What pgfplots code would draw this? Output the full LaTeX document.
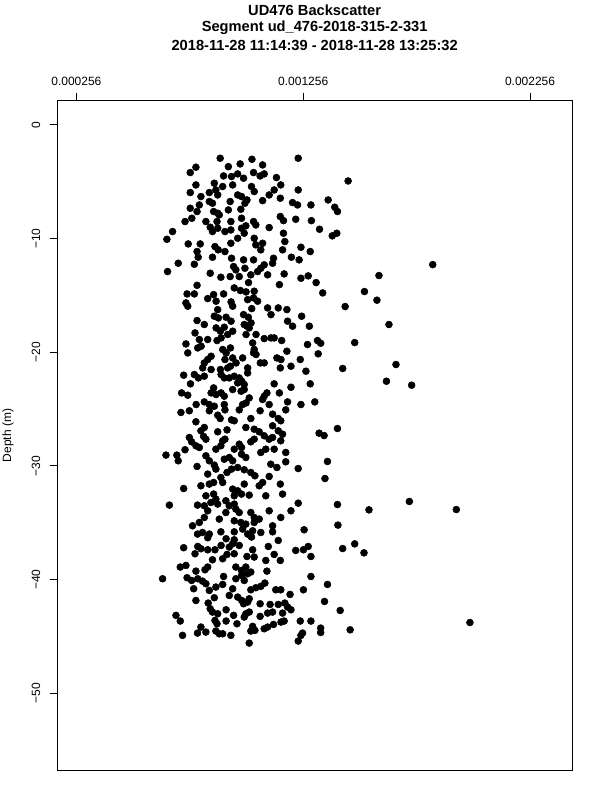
\documentclass[border=0pt]{standalone}
\usepackage{fontspec}
\setmainfont{Liberation Sans}
\usepackage{pgfplots}
\pgfplotsset{compat=1.18}
\pgfplotstableread{
x y
0.890e-3 -2.93
0.926e-3 -3.67
0.978e-3 -3.43
1.030e-3 -3.02
1.077e-3 -3.52
1.234e-3 -2.93
0.783e-3 -3.72
0.758e-3 -4.19
0.905e-3 -4.49
0.940e-3 -4.54
0.967e-3 -4.31
0.993e-3 -4.69
1.037e-3 -4.19
1.066e-3 -4.49
1.084e-3 -4.31
1.138e-3 -4.63
1.157e-3 -5.28
1.128e-3 -5.72
1.106e-3 -6.16
1.077e-3 -6.66
0.783e-3 -5.28
0.864e-3 -5.13
0.901e-3 -5.42
0.945e-3 -5.28
1.028e-3 -5.42
0.758e-3 -5.95
0.842e-3 -5.95
0.871e-3 -5.72
0.879e-3 -6.16
0.967e-3 -6.16
0.984e-3 -6.30
1.234e-3 -5.72
0.805e-3 -6.30
0.842e-3 -6.74
0.856e-3 -6.89
0.934e-3 -6.74
1.008e-3 -6.60
1.040e-3 -5.86
1.155e-3 -6.45
1.209e-3 -6.83
1.231e-3 -7.04
1.290e-3 -7.04
0.758e-3 -7.33
0.788e-3 -7.62
0.798e-3 -7.04
0.861e-3 -7.62
0.879e-3 -7.77
0.926e-3 -7.48
0.981e-3 -7.42
0.999e-3 -6.89
0.735e-3 -8.50
0.765e-3 -8.21
0.827e-3 -8.50
0.846e-3 -9.00
0.876e-3 -8.50
0.886e-3 -7.92
0.937e-3 -8.50
0.984e-3 -8.21
1.037e-3 -8.50
1.047e-3 -8.80
1.155e-3 -8.06
1.169e-3 -8.42
1.223e-3 -8.30
1.292e-3 -8.42
0.680e-3 -9.38
0.655e-3 -10.06
0.879e-3 -9.09
0.856e-3 -9.38
0.911e-3 -9.38
0.937e-3 -9.24
0.984e-3 -9.09
1.003e-3 -8.88
0.996e-3 -9.53
0.967e-3 -9.97
1.040e-3 -9.97
1.106e-3 -9.03
1.169e-3 -9.53
1.175e-3 -10.26
0.749e-3 -10.47
0.802e-3 -10.47
0.867e-3 -10.70
0.881e-3 -10.99
0.911e-3 -11.14
0.937e-3 -10.41
1.047e-3 -10.55
1.077e-3 -10.41
1.069e-3 -10.99
1.246e-3 -10.76
1.287e-3 -11.14
1.165e-3 -10.99
0.788e-3 -11.14
0.793e-3 -11.64
0.856e-3 -11.64
0.940e-3 -11.73
0.993e-3 -11.87
1.037e-3 -11.87
1.125e-3 -11.73
1.204e-3 -11.64
1.238e-3 -11.87
0.705e-3 -12.17
0.776e-3 -12.26
0.949e-3 -12.46
0.959e-3 -12.75
0.999e-3 -12.61
1.084e-3 -12.31
1.121e-3 -12.17
0.658e-3 -12.90
0.846e-3 -13.05
0.893e-3 -13.40
0.934e-3 -13.34
0.974e-3 -13.34
1.025e-3 -13.19
1.055e-3 -12.90
1.069e-3 -12.61
1.099e-3 -13.19
1.172e-3 -13.11
1.246e-3 -13.49
1.278e-3 -13.28
1.015e-3 -13.87
1.151e-3 -14.05
0.952e-3 -14.34
0.979e-3 -14.57
1.004e-3 -14.69
1.040e-3 -14.63
0.788e-3 -14.11
0.744e-3 -14.87
0.776e-3 -14.87
0.739e-3 -15.66
0.747e-3 -15.95
0.835e-3 -15.28
0.861e-3 -14.93
0.872e-3 -15.51
0.905e-3 -14.87
0.938e-3 -15.57
0.945e-3 -15.95
1.011e-3 -15.37
1.037e-3 -15.22
1.055e-3 -15.51
1.099e-3 -16.10
1.114e-3 -16.69
1.146e-3 -16.10
1.184e-3 -16.25
0.879e-3 -16.25
0.864e-3 -16.83
0.882e-3 -16.98
0.916e-3 -16.92
0.938e-3 -17.27
1.029e-3 -16.16
0.993e-3 -16.69
1.014e-3 -16.92
1.026e-3 -17.42
1.187e-3 -17.27
1.209e-3 -17.71
1.249e-3 -16.83
1.283e-3 -17.71
0.788e-3 -17.21
0.820e-3 -17.56
0.779e-3 -18.30
0.872e-3 -17.86
0.891e-3 -18.15
0.908e-3 -17.80
0.923e-3 -18.44
0.945e-3 -18.15
0.894e-3 -18.74
0.996e-3 -17.56
1.008e-3 -17.71
1.018e-3 -17.86
1.004e-3 -18.44
1.048e-3 -18.44
0.798e-3 -18.88
0.835e-3 -18.88
0.876e-3 -18.97
1.084e-3 -18.80
1.114e-3 -18.74
1.128e-3 -18.74
1.161e-3 -18.97
0.739e-3 -19.27
0.747e-3 -20.06
0.791e-3 -19.62
0.806e-3 -19.47
0.901e-3 -19.76
0.916e-3 -20.06
0.935e-3 -19.62
0.945e-3 -20.50
0.911e-3 -20.64
1.033e-3 -19.18
1.040e-3 -19.76
1.037e-3 -20.06
1.048e-3 -20.20
0.850e-3 -20.35
0.835e-3 -20.64
0.820e-3 -20.94
1.184e-3 -19.91
1.275e-3 -19.32
0.989e-3 -20.50
0.960e-3 -20.94
0.935e-3 -21.23
1.011e-3 -21.38
1.084e-3 -20.94
1.067e-3 -20.94
1.140e-3 -20.50
1.158e-3 -20.64
1.155e-3 -21.38
1.202e-3 -21.23
1.243e-3 -20.64
1.268e-3 -21.67
0.813e-3 -21.38
0.850e-3 -21.52
0.891e-3 -21.52
0.923e-3 -21.38
0.729e-3 -22.02
0.776e-3 -21.96
0.794e-3 -22.26
0.759e-3 -22.78
0.820e-3 -22.11
0.894e-3 -21.96
0.908e-3 -22.26
0.930e-3 -22.26
0.952e-3 -22.11
0.974e-3 -22.26
0.985e-3 -22.55
0.996e-3 -22.84
0.967e-3 -22.70
1.011e-3 -21.82
1.128e-3 -22.78
1.202e-3 -23.08
1.287e-3 -22.78
0.861e-3 -23.14
0.850e-3 -23.58
0.872e-3 -23.72
0.894e-3 -23.58
0.908e-3 -23.87
0.945e-3 -23.28
0.982e-3 -23.43
0.996e-3 -23.28
0.720e-3 -23.58
0.747e-3 -23.78
0.784e-3 -24.60
0.820e-3 -24.37
0.842e-3 -24.60
0.864e-3 -24.75
1.018e-3 -24.02
1.004e-3 -24.46
0.989e-3 -24.60
0.908e-3 -24.60
1.084e-3 -23.87
1.096e-3 -23.58
1.077e-3 -24.16
1.151e-3 -23.58
1.106e-3 -24.60
1.187e-3 -24.37
1.246e-3 -24.60
0.717e-3 -25.30
0.754e-3 -25.15
0.842e-3 -25.15
0.911e-3 -25.07
0.974e-3 -25.07
1.066e-3 -25.15
1.179e-3 -25.07
0.783e-3 -26.12
0.820e-3 -26.62
0.805e-3 -26.91
0.879e-3 -25.54
0.890e-3 -25.83
0.952e-3 -26.03
0.940e-3 -25.95
1.025e-3 -25.83
1.121e-3 -25.45
1.146e-3 -25.83
1.157e-3 -26.03
0.754e-3 -27.50
0.764e-3 -27.88
0.783e-3 -28.23
0.798e-3 -28.38
0.827e-3 -27.65
0.817e-3 -27.41
0.879e-3 -27.00
0.920e-3 -26.83
1.003e-3 -26.62
1.040e-3 -26.77
1.062e-3 -27.00
1.121e-3 -26.47
1.146e-3 -26.91
1.165e-3 -27.21
1.157e-3 -27.79
0.901e-3 -27.79
0.911e-3 -27.65
0.893e-3 -28.23
0.871e-3 -28.53
0.952e-3 -28.53
0.974e-3 -28.09
0.984e-3 -28.38
1.025e-3 -27.88
1.040e-3 -27.65
1.084e-3 -27.35
1.106e-3 -27.65
1.121e-3 -27.50
0.651e-3 -29.05
0.699e-3 -29.05
0.705e-3 -29.55
0.735e-3 -28.58
0.827e-3 -29.11
0.842e-3 -29.55
0.864e-3 -29.93
0.871e-3 -30.28
0.908e-3 -29.41
0.930e-3 -29.26
0.945e-3 -29.55
0.984e-3 -28.97
1.003e-3 -29.26
1.069e-3 -28.82
1.091e-3 -28.53
1.128e-3 -28.53
1.179e-3 -28.82
0.788e-3 -30.05
0.835e-3 -30.72
0.893e-3 -31.02
0.920e-3 -30.58
0.940e-3 -30.28
0.967e-3 -30.14
0.996e-3 -30.34
1.025e-3 -30.58
1.043e-3 -30.87
1.113e-3 -29.85
1.140e-3 -30.14
1.179e-3 -29.64
1.234e-3 -30.23
0.729e-3 -31.99
0.805e-3 -31.75
0.842e-3 -31.60
0.861e-3 -31.46
0.901e-3 -31.46
0.945e-3 -32.04
0.967e-3 -32.19
0.996e-3 -31.60
1.062e-3 -31.75
1.077e-3 -31.46
1.106e-3 -30.93
1.155e-3 -31.60
0.827e-3 -32.63
0.861e-3 -32.48
0.871e-3 -32.92
0.849e-3 -33.22
0.820e-3 -33.51
0.790e-3 -33.45
0.666e-3 -33.45
0.915e-3 -33.07
0.952e-3 -32.63
0.984e-3 -32.48
1.018e-3 -32.57
1.091e-3 -32.63
1.165e-3 -32.48
0.879e-3 -33.36
0.930e-3 -33.51
0.952e-3 -33.36
0.959e-3 -33.80
0.974e-3 -34.10
0.915e-3 -34.10
1.025e-3 -34.10
1.040e-3 -34.54
1.106e-3 -33.95
1.202e-3 -33.95
1.234e-3 -33.28
0.835e-3 -33.95
0.820e-3 -34.54
0.798e-3 -34.98
0.768e-3 -35.27
0.886e-3 -34.68
0.952e-3 -34.83
0.981e-3 -34.98
1.003e-3 -35.12
1.040e-3 -34.98
1.062e-3 -34.68
1.121e-3 -35.27
1.157e-3 -34.54
0.790e-3 -36.00
0.812e-3 -35.86
0.842e-3 -36.00
0.893e-3 -35.80
0.952e-3 -35.80
0.989e-3 -35.56
1.011e-3 -36.00
1.033e-3 -35.71
1.069e-3 -35.86
1.121e-3 -35.80
1.260e-3 -35.62
0.835e-3 -36.32
0.916e-3 -36.41
0.952e-3 -36.50
1.028e-3 -36.26
1.146e-3 -36.56
0.729e-3 -37.20
0.791e-3 -37.09
0.805e-3 -37.29
0.835e-3 -37.38
0.867e-3 -37.38
0.779e-3 -37.73
0.894e-3 -37.00
0.930e-3 -37.14
0.945e-3 -36.85
0.974e-3 -37.00
1.033e-3 -37.38
1.102e-3 -37.09
1.128e-3 -37.79
1.155e-3 -38.32
1.223e-3 -37.44
1.257e-3 -37.38
1.278e-3 -37.09
1.290e-3 -37.97
0.856e-3 -38.26
0.901e-3 -38.17
0.920e-3 -37.79
0.952e-3 -37.73
1.008e-3 -37.97
1.040e-3 -38.02
1.091e-3 -38.32
0.714e-3 -38.90
0.739e-3 -38.76
0.783e-3 -39.26
0.823e-3 -39.14
0.835e-3 -38.90
0.959e-3 -38.90
0.984e-3 -39.20
1.003e-3 -38.90
1.011e-3 -39.49
1.096e-3 -39.26
0.636e-3 -39.93
0.744e-3 -39.84
0.764e-3 -40.08
0.791e-3 -39.93
0.812e-3 -40.14
0.827e-3 -40.37
0.905e-3 -39.73
0.959e-3 -39.93
0.984e-3 -39.64
0.996e-3 -40.08
1.025e-3 -39.34
0.773e-3 -40.81
0.842e-3 -40.96
0.871e-3 -40.66
0.901e-3 -40.43
0.945e-3 -40.81
1.025e-3 -40.90
1.047e-3 -40.72
1.069e-3 -40.60
1.087e-3 -40.31
1.135e-3 -40.90
1.157e-3 -40.90
1.257e-3 -40.90
1.290e-3 -39.73
0.864e-3 -41.60
0.783e-3 -41.84
0.930e-3 -41.40
0.967e-3 -41.54
0.985e-3 -41.84
1.018e-3 -41.69
1.198e-3 -41.31
0.837e-3 -42.07
0.846e-3 -42.57
0.856e-3 -42.86
0.879e-3 -43.01
0.916e-3 -42.66
0.993e-3 -42.13
1.011e-3 -41.98
1.066e-3 -42.13
1.110e-3 -42.19
1.146e-3 -42.19
1.175e-3 -42.07
1.187e-3 -42.42
0.695e-3 -43.15
0.714e-3 -43.65
0.867e-3 -43.60
0.876e-3 -43.89
0.916e-3 -43.65
0.949e-3 -43.15
1.003e-3 -43.01
1.018e-3 -42.86
0.996e-3 -43.30
1.066e-3 -43.24
1.099e-3 -42.95
1.121e-3 -42.86
1.165e-3 -42.95
1.202e-3 -42.66
1.172e-3 -43.65
0.805e-3 -44.18
0.790e-3 -44.71
0.827e-3 -44.62
0.871e-3 -44.53
0.886e-3 -44.77
0.901e-3 -44.77
0.937e-3 -44.91
0.964e-3 -43.89
1.033e-3 -44.12
1.043e-3 -44.47
1.084e-3 -44.33
1.099e-3 -44.18
1.125e-3 -43.95
1.158e-3 -43.74
0.724e-3 -44.91
1.025e-3 -44.53
1.018e-3 -45.59
1.243e-3 -43.65
1.290e-3 -43.65
1.253e-3 -44.71
1.246e-3 -44.91
1.234e-3 -45.41
1.454e-3 -4.93
1.366e-3 -6.60
1.395e-3 -7.24
1.407e-3 -7.62
1.328e-3 -9.18
1.384e-3 -9.76
1.404e-3 -9.53
1.827e-3 -12.29
1.590e-3 -13.25
1.313e-3 -13.87
1.342e-3 -14.78
1.526e-3 -14.66
1.581e-3 -15.42
1.441e-3 -15.98
1.634e-3 -17.56
1.319e-3 -18.97
1.333e-3 -19.21
1.322e-3 -20.14
1.483e-3 -19.15
1.665e-3 -21.08
1.430e-3 -21.43
1.623e-3 -22.55
1.734e-3 -22.90
1.307e-3 -24.37
1.407e-3 -26.71
1.326e-3 -27.12
1.348e-3 -27.33
1.363e-3 -29.61
1.352e-3 -31.11
1.407e-3 -33.40
1.546e-3 -33.87
1.724e-3 -33.13
1.931e-3 -33.84
1.409e-3 -35.21
1.430e-3 -37.27
1.483e-3 -36.86
1.524e-3 -37.65
1.363e-3 -40.43
1.350e-3 -41.93
1.419e-3 -42.72
1.333e-3 -44.27
1.333e-3 -44.66
1.463e-3 -44.42
1.991e-3 -43.78
}\backscatter
\begin{document}
\begin{tikzpicture}
\path[use as bounding box] (0,0) rectangle (450pt,-600pt);
\node[font=\fontsize{11}{13}\selectfont\bfseries] at (236pt,-7.5pt) {UD476 Backscatter};
\node[font=\fontsize{11}{13}\selectfont\bfseries] at (236pt,-20.6pt) {Segment ud\_476-2018-315-2-331};
\node[font=\fontsize{11}{13}\selectfont\bfseries] at (236pt,-33.75pt) {2018-11-28 11:14:39 - 2018-11-28 13:25:32};
\begin{axis}[
  at={(43pt,-75.2pt)}, anchor=north west,
  scale only axis, width=386pt, height=503pt,
  xmin=0.172e-3, xmax=2.441e-3, ymin=-56.84, ymax=2.17,
  axis line style={black, line width=0.75pt},
  tick style={black, line width=0.75pt},
  major tick length=5.7pt,
  tick align=outside,
  xtick={0.256e-3,1.256e-3,2.256e-3},
  xticklabels={0.000256,0.001256,0.002256},
  xtick pos=upper, xticklabel pos=upper,
  xticklabel shift=1.5pt,
  ytick={-50,-40,-30,-20,-10,0},
  yticklabels={−50,−40,−30,−20,−10,0},
  ytick pos=left,
  yticklabel shift=3.5pt,
  tick label style={font=\fontsize{9}{11}\selectfont},
  yticklabel style={rotate=90, anchor=south},
  ylabel={Depth (m)},
  ylabel style={font=\fontsize{9}{11}\selectfont, at={(axis description cs:-0.0959,0.5)}, anchor=center},
  scaled x ticks=false,
  clip=false,
]
\addplot[only marks, mark=*, mark size=2.6pt, black, mark options={fill=black, draw=black}] table[x=x, y=y] {\backscatter};
\end{axis}
\end{tikzpicture}
\end{document}
